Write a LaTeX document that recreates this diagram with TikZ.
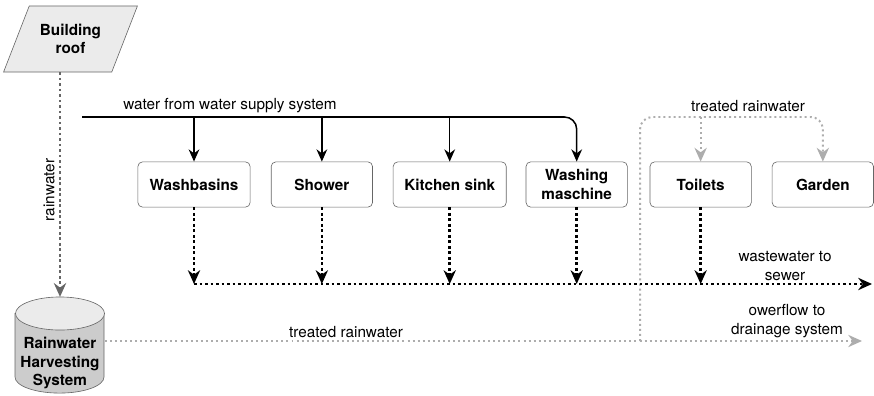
\documentclass[tikz,border=0pt]{standalone}
\usepackage{fontspec}
\setmainfont{TeX Gyre Heros}
\usetikzlibrary{shapes.geometric, arrows.meta, calc}

\begin{document}
\begin{tikzpicture}[x=0.023cm, y=-0.023cm, node distance=2.94cm,
  box/.style={draw=black!60, rounded corners=3pt, fill=white, font=\bfseries, align=center, minimum width=2.33cm, minimum height=1.04cm},
  feed/.style={->, >={Stealth[length=8pt, width=7pt]}, line width=1pt},
  waste/.style={->, >={Stealth[length=9pt, width=8pt]}, line width=1.7pt, dash pattern=on 1.7pt off 1.9pt},
  treated/.style={->, >={Stealth[length=9pt, width=8pt]}, line width=1.3pt, color=black!32, dash pattern=on 1.3pt off 2pt}]

  \useasboundingbox (0,0) rectangle (874,395);

  % Sources
  \node[trapezium, trapezium left angle=61, trapezium right angle=119, trapezium stretches=true, draw=black!60, fill=black!8, minimum width=3.08cm, minimum height=1.52cm, font=\bfseries, align=center] (roof) at (70.5,39) {Building\\roof};

  % Storage tank (drawn as a cylinder)
  \node[minimum width=2.05cm, minimum height=2.2cm, inner sep=0pt] (rhs) at (60,345) {};
  \draw[draw=black!60, fill=black!20] (15,313.5) -- (15,377) arc[start angle=180, end angle=360, x radius=1.0235cm, y radius=0.37cm] -- (104,313.5) -- cycle;
  \draw[draw=black!60, fill=black!8] (60,313.5) ellipse [x radius=1.0235cm, y radius=0.38cm];
  \node[font=\bfseries, align=center] (rhstext) at (60,363) {Rainwater\\Harvesting\\System};

  % First row
  \node[box, minimum width=2.58cm] (W1) at (194,184.5) {Washbasins};
  \node[box, right of=W1] (W2) {Shower};
  \node[box, right of=W2, minimum width=2.6cm] (W3) {Kitchen sink};
  \node[box, right of=W3, xshift=-0.02cm] (W4) {Washing\\maschine};
  \node[box, right of=W4, xshift=-0.09cm] (T1) {Toilets};
  \node[box, right of=T1, xshift=-0.13cm] (T2) {Garden};

  % Corner points
  \coordinate (S0) at (82,117);
  \coordinate (R0) at (640,117);
  \coordinate (R1) at (640,341);
  \coordinate (E0) at (194,284);
  \coordinate (E1) at (872,284);
  \coordinate (D1) at (862,341);

  % Labels
  \node[] at (230,106) {water from water supply system};
  \node[rotate=90] at (49,190) {rainwater};
  \node[] at (346,332) {treated rainwater};
  \node[] at (748,106) {treated rainwater};
  \node[align=center] at (785,266) {wastewater to\\sewer};
  \node[align=center] at (787,321) {owerflow to\\drainage system};

  % Water supply
  \draw[feed, rounded corners=8pt] (S0) -| (W4.north);
  \draw[feed] (S0 -| W1.north) -- (W1.north);
  \draw[feed] (S0 -| W2.north) -- (W2.north);
  \draw[feed] (S0 -| W3.north) -- (W3.north);

  % Rainwater
  \draw[waste, color=black!60] (roof.south -| rhs.north) -- (rhs.north);
  \draw[treated] (rhs.east |- R1) -- (D1);
  \draw[treated, rounded corners=8pt] (R1) -- (R0) -| (T2.north);
  \draw[treated] (R0 -| T1.north) -- (T1.north);

  % Wastewater
  \draw[waste] (E0) -- (E1);
  \draw[waste] (W1.south) -- (E0);
  \draw[waste] (W2.south) -- (E0 -| W2.south);
  \draw[waste] (W3.south) -- (E0 -| W3.south);
  \draw[waste] (W4.south) -- (E0 -| W4.south);
  \draw[waste] (T1.south) -- (E0 -| T1.south);

\end{tikzpicture}
\end{document}
